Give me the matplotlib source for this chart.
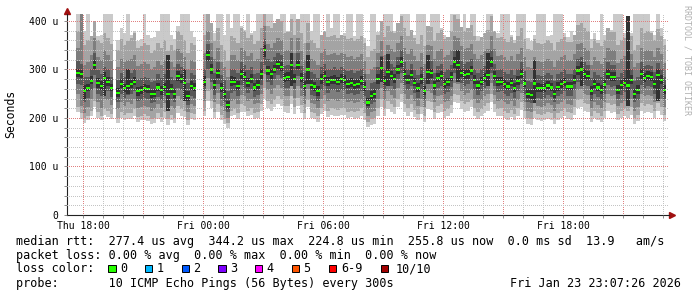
import numpy as np
import matplotlib
matplotlib.use('Agg')
import matplotlib.pyplot as plt
from matplotlib.patches import Rectangle
from matplotlib.ticker import MultipleLocator, FuncFormatter

nan = float('nan')

# ============== data (one column = 10 min, times in hours since Thu 00:00, values in microseconds)
t_start = 17 + 40 / 60.0
t_step = 10 / 60.0

median = [292, 290, 255, 262, 277, 310, 272, 266, 282, 275,
          262, nan, 252, 270, 262, 266, 270, 275, 255, 257,
          261, 260, 249, 250, 263, 257, 264, 250, 260, 250,
          286, 280, 272, 245, 266, 262, nan, nan, 275, 330,
          300, 268, 292, 262, 250, 226, 275, 275, 266, 290,
          285, 272, 280, 263, 268, 290, 340, 298, 290, 300,
          311, 305, 282, 285, 310, 280, 310, 283, 266, 300,
          268, 265, 255, 280, 287, 275, 278, 278, 275, 280,
          278, 270, 272, 268, 270, 276, 264, 232, 246, 250,
          280, 303, 276, 295, 287, 281, 300, 315, 290, 278,
          288, 273, 262, 280, 256, 295, 292, 267, 283, 287,
          270, 274, 285, 315, 310, 293, 288, 290, 298, 278,
          267, 275, 282, 288, 315, 287, 274, 275, 270, 265,
          273, 262, 277, 291, 271, 250, 248, 271, 262, 261,
          262, 267, 263, 250, 264, 270, 274, 265, 265, 278,
          298, 300, 290, 286, 255, 270, 263, 258, 269, 290,
          285, 285, 258, 268, 273, 267, 278, 250, 258, 290,
          283, 286, 284, 270, 289, 278, 258]

# sorted pings: p1 = fastest ... p10 = slowest
p1 = [212, 198, 190, 195, 205, 222, 200, 195, 206, 202,
      198, nan, 190, 200, 195, 198, 198, 205, 192, 195,
      196, 194, 188, 190, 198, 192, 200, 186, 196, 190,
      210, 205, 202, 185, 198, 196, nan, nan, 204, 235,
      220, 200, 212, 195, 188, 180, 205, 206, 198, 212,
      212, 204, 206, 198, 200, 214, 240, 220, 214, 222,
      228, 224, 212, 210, 228, 208, 225, 210, 198, 222,
      200, 198, 192, 208, 214, 202, 206, 205, 204, 206,
      206, 200, 202, 198, 200, 205, 196, 182, 186, 188,
      205, 222, 204, 218, 212, 208, 222, 232, 212, 205,
      212, 202, 196, 208, 192, 218, 216, 198, 210, 212,
      200, 204, 210, 232, 230, 218, 212, 215, 222, 205,
      198, 204, 210, 214, 232, 212, 204, 205, 200, 196,
      202, 195, 205, 216, 200, 188, 186, 200, 195, 194,
      195, 198, 196, 188, 196, 200, 205, 198, 196, 206,
      220, 222, 214, 212, 192, 200, 196, 192, 200, 214,
      210, 212, 195, 200, 204, 200, 206, 188, 194, 214,
      210, 212, 210, 200, 214, 206, 194]
p2 = [222, 210, 200, 205, 215, 235, 212, 205, 218, 214,
      208, nan, 200, 212, 206, 210, 210, 218, 202, 205,
      208, 205, 198, 200, 210, 202, 212, 198, 206, 200,
      225, 218, 215, 196, 210, 208, nan, nan, 215, 255,
      235, 212, 228, 206, 198, 190, 215, 218, 210, 228,
      225, 215, 220, 210, 212, 228, 262, 235, 228, 238,
      245, 240, 225, 225, 245, 222, 242, 226, 210, 238,
      212, 210, 204, 220, 228, 215, 220, 218, 216, 220,
      220, 212, 215, 212, 214, 220, 210, 192, 198, 200,
      220, 240, 218, 235, 228, 222, 240, 250, 228, 220,
      228, 216, 208, 222, 205, 235, 232, 212, 225, 228,
      214, 218, 226, 250, 248, 235, 228, 232, 238, 220,
      212, 218, 225, 230, 250, 228, 218, 220, 215, 210,
      216, 208, 220, 232, 214, 200, 198, 214, 208, 206,
      208, 212, 210, 200, 210, 215, 220, 212, 210, 222,
      238, 240, 230, 228, 205, 215, 210, 205, 215, 230,
      226, 228, 208, 214, 218, 214, 222, 200, 206, 230,
      225, 228, 226, 214, 230, 222, 206]
p3 = [250, 225, 210, 222, 240, 262, 232, 220, 240, 238,
      226, nan, 218, 232, 225, 232, 228, 240, 220, 222,
      225, 222, 215, 218, 228, 220, 230, 214, 224, 218,
      245, 238, 235, 212, 228, 225, nan, nan, 236, 282,
      258, 232, 252, 225, 215, 200, 236, 238, 228, 248,
      245, 235, 240, 228, 230, 250, 290, 258, 250, 262,
      268, 262, 245, 245, 268, 242, 265, 246, 228, 260,
      230, 228, 220, 240, 248, 235, 240, 238, 236, 240,
      240, 232, 235, 230, 232, 238, 228, 205, 212, 215,
      240, 262, 238, 255, 248, 242, 262, 272, 250, 240,
      248, 235, 225, 240, 222, 255, 252, 232, 245, 248,
      232, 236, 246, 272, 270, 255, 248, 252, 258, 240,
      230, 238, 245, 250, 272, 248, 236, 238, 232, 228,
      235, 225, 238, 252, 232, 215, 212, 232, 225, 222,
      225, 230, 226, 215, 228, 232, 238, 228, 226, 240,
      258, 260, 250, 248, 220, 232, 226, 220, 232, 250,
      246, 248, 224, 230, 236, 230, 240, 215, 222, 250,
      245, 248, 246, 232, 250, 240, 222]
p4 = [270, 268, 232, 242, 258, 288, 250, 246, 262, 255,
      244, nan, 234, 250, 242, 248, 250, 256, 236, 238,
      242, 240, 230, 232, 244, 238, 246, 230, 240, 232,
      262, 258, 250, 226, 246, 242, nan, nan, 255, 300,
      275, 248, 270, 240, 232, 212, 252, 255, 245, 268,
      262, 252, 260, 244, 248, 268, 310, 275, 268, 280,
      288, 282, 262, 262, 288, 260, 286, 262, 246, 278,
      248, 246, 236, 258, 265, 252, 258, 257, 254, 258,
      258, 250, 252, 248, 250, 255, 245, 218, 228, 232,
      258, 280, 256, 272, 265, 260, 280, 292, 268, 258,
      266, 252, 242, 258, 238, 272, 270, 248, 262, 265,
      250, 254, 264, 292, 288, 272, 266, 270, 276, 258,
      248, 255, 262, 268, 292, 266, 254, 256, 250, 246,
      252, 242, 256, 270, 250, 232, 230, 250, 242, 240,
      242, 248, 244, 232, 245, 250, 255, 246, 245, 258,
      275, 278, 268, 265, 236, 250, 244, 238, 250, 268,
      264, 265, 240, 248, 254, 248, 258, 232, 238, 268,
      262, 265, 264, 250, 268, 258, 240]
p5 = [284, 283, 240, 255, 270, 300, 262, 258, 245, 266,
      255, nan, 244, 262, 254, 250, 262, 268, 246, 250,
      254, 252, 242, 243, 256, 248, 256, 215, 252, 242,
      276, 272, 235, 236, 258, 255, nan, nan, 266, 318,
      290, 258, 283, 254, 242, 218, 266, 267, 258, 280,
      276, 264, 272, 255, 260, 281, 326, 288, 281, 292,
      302, 296, 274, 276, 265, 272, 300, 275, 258, 270,
      260, 256, 246, 271, 278, 266, 270, 270, 267, 272,
      270, 262, 263, 260, 262, 268, 256, 225, 238, 242,
      271, 275, 268, 265, 278, 273, 290, 305, 281, 270,
      280, 265, 254, 271, 248, 270, 283, 259, 274, 278,
      262, 266, 276, 304, 275, 284, 280, 281, 289, 270,
      259, 267, 274, 265, 305, 278, 266, 267, 262, 257,
      265, 254, 269, 282, 263, 242, 240, 230, 254, 253,
      254, 259, 255, 242, 256, 262, 266, 257, 257, 270,
      288, 265, 281, 278, 247, 262, 255, 250, 261, 281,
      276, 277, 250, 260, 265, 225, 270, 242, 250, 281,
      275, 278, 276, 262, 235, 270, 250]
p6 = [300, 298, 268, 270, 286, 320, 282, 276, 295, 284,
      270, nan, 262, 280, 270, 300, 278, 284, 264, 266,
      270, 268, 258, 260, 272, 266, 273, 330, 270, 260,
      296, 290, 300, 256, 276, 272, nan, nan, 286, 340,
      312, 278, 302, 272, 260, 236, 286, 284, 276, 300,
      294, 282, 290, 272, 278, 300, 350, 308, 300, 310,
      320, 316, 292, 295, 335, 290, 320, 292, 276, 330,
      278, 275, 266, 290, 296, 285, 287, 288, 284, 290,
      288, 280, 282, 278, 280, 286, 274, 242, 256, 260,
      290, 325, 286, 332, 296, 291, 310, 325, 300, 288,
      298, 282, 272, 290, 266, 330, 302, 277, 292, 296,
      280, 283, 295, 325, 340, 302, 298, 300, 308, 288,
      277, 284, 292, 335, 325, 296, 284, 285, 280, 275,
      282, 272, 286, 300, 281, 260, 258, 320, 272, 271,
      272, 276, 273, 260, 274, 280, 283, 275, 275, 288,
      308, 315, 300, 296, 266, 280, 272, 268, 278, 300,
      294, 294, 268, 278, 282, 410, 288, 260, 268, 300,
      292, 296, 294, 280, 300, 288, 268]
p7 = [318, 312, 285, 285, 300, 335, 298, 290, 305, 300,
      285, nan, 278, 292, 285, 290, 292, 300, 280, 282,
      285, 282, 275, 276, 290, 282, 290, 278, 285, 278,
      312, 305, 298, 272, 292, 288, nan, nan, 300, 352,
      325, 292, 315, 288, 278, 255, 300, 300, 292, 315,
      310, 298, 305, 290, 292, 315, 362, 322, 316, 325,
      335, 330, 308, 310, 335, 305, 335, 308, 292, 325,
      294, 290, 282, 305, 312, 300, 302, 305, 300, 305,
      302, 296, 298, 292, 296, 302, 290, 258, 272, 275,
      305, 328, 300, 320, 312, 306, 325, 340, 315, 302,
      312, 298, 288, 305, 282, 320, 318, 292, 308, 312,
      295, 300, 310, 338, 335, 318, 312, 315, 322, 302,
      292, 300, 308, 312, 340, 312, 298, 300, 295, 290,
      298, 288, 302, 315, 296, 276, 274, 296, 288, 286,
      288, 292, 288, 276, 290, 295, 300, 290, 290, 302,
      322, 325, 315, 310, 282, 295, 288, 284, 294, 315,
      310, 310, 284, 292, 298, 292, 302, 276, 284, 315,
      308, 310, 308, 295, 314, 302, 284]
p8 = [345, 420, 310, 315, 330, 365, 325, 320, 340, 330,
      318, nan, 305, 322, 315, 320, 322, 330, 308, 312,
      315, 312, 300, 305, 318, 310, 320, 305, 315, 305,
      342, 335, 325, 300, 320, 315, nan, nan, 335, 380,
      355, 322, 345, 315, 305, 285, 330, 330, 320, 345,
      340, 328, 335, 318, 322, 345, 390, 352, 345, 355,
      365, 360, 338, 340, 365, 335, 365, 338, 320, 355,
      322, 320, 310, 335, 342, 330, 332, 335, 330, 335,
      332, 325, 328, 322, 325, 332, 318, 290, 300, 305,
      335, 358, 330, 350, 342, 336, 355, 370, 345, 332,
      342, 328, 318, 335, 312, 350, 348, 322, 338, 342,
      325, 330, 340, 370, 365, 348, 342, 345, 352, 332,
      322, 330, 338, 342, 370, 342, 328, 330, 325, 320,
      328, 318, 332, 345, 326, 305, 304, 326, 318, 316,
      318, 322, 318, 305, 320, 325, 330, 320, 320, 332,
      352, 355, 345, 340, 310, 325, 318, 312, 324, 345,
      340, 340, 314, 322, 328, 322, 332, 305, 314, 345,
      338, 340, 338, 325, 344, 332, 314]
p9 = [380, 420, 350, 360, 370, 400, 360, 355, 375, 365,
      352, nan, 340, 362, 350, 358, 365, 375, 345, 348,
      355, 350, 335, 340, 355, 345, 360, 338, 350, 340,
      380, 372, 360, 335, 355, 350, nan, nan, 372, 414,
      395, 358, 385, 350, 340, 318, 370, 365, 355, 385,
      380, 365, 372, 352, 358, 385, 414, 390, 385, 395,
      405, 400, 375, 378, 405, 372, 405, 375, 355, 395,
      360, 355, 345, 372, 380, 368, 370, 372, 365, 372,
      370, 362, 365, 358, 362, 370, 355, 325, 338, 342,
      372, 400, 368, 390, 380, 375, 395, 410, 385, 370,
      382, 365, 352, 372, 348, 390, 388, 358, 376, 382,
      362, 368, 380, 412, 405, 388, 380, 385, 392, 370,
      358, 368, 376, 382, 410, 380, 365, 368, 362, 356,
      366, 354, 370, 385, 362, 342, 340, 362, 354, 352,
      354, 360, 355, 340, 356, 362, 368, 356, 356, 372,
      392, 395, 385, 380, 345, 362, 354, 348, 360, 385,
      378, 378, 350, 360, 365, 358, 370, 340, 350, 385,
      375, 380, 376, 360, 384, 370, 350]
p10 = [420, 420, 380, 420, 365, 390, 370, 372, 420, 420,
       420, nan, 360, 385, 375, 420, 372, 380, 358, 362,
       420, 372, 365, 368, 380, 420, 420, 420, 372, 362,
       390, 420, 420, 420, 380, 368, nan, nan, 420, 420,
       395, 375, 420, 420, 372, 420, 385, 420, 420, 390,
       382, 420, 376, 380, 420, 420, 420, 420, 420, 395,
       392, 420, 420, 380, 420, 420, 385, 420, 420, 420,
       380, 420, 420, 372, 378, 420, 385, 420, 420, 368,
       375, 420, 420, 370, 420, 420, 365, 348, 420, 420,
       378, 382, 420, 420, 420, 380, 368, 420, 420, 420,
       382, 372, 420, 420, 420, 375, 420, 420, 420, 385,
       372, 365, 420, 420, 420, 388, 420, 376, 420, 420,
       370, 368, 375, 420, 420, 380, 376, 420, 420, 420,
       372, 360, 420, 420, 420, 365, 358, 372, 420, 420,
       420, 370, 372, 420, 420, 420, 376, 368, 380, 372,
       420, 420, 420, 420, 362, 376, 360, 420, 372, 380,
       382, 420, 420, 420, 376, 380, 375, 420, 420, 420,
       420, 420, 380, 372, 420, 385, 362]

x_ticks = {18: 'Thu 18:00', 24: 'Fri 00:00', 30: 'Fri 06:00', 36: 'Fri 12:00', 42: 'Fri 18:00'}

loss_labels = ['0', '1', '2', '3', '4', '5', '6-9', '10/10']
loss_colors = ['#26ff00', '#00b8ff', '#0059ff', '#7e00ff', '#ff00ff', '#ff5500', '#ff0000', '#a10000']

legend_lines = [
    'median rtt:  277.4 us avg  344.2 us max  224.8 us min  255.8 us now  0.0 ms sd  13.9   am/s',
    'packet loss: 0.00 % avg  0.00 % max  0.00 % min  0.00 % now',
    'loss color:',
    'probe:       10 ICMP Echo Pings (56 Bytes) every 300s',
]
stamp = 'Fri Jan 23 23:07:26 2026'

# ============== figure setup
MONO = 'DejaVu Sans Mono'
W, H = 697, 297
fig = plt.figure(figsize=(W / 100, H / 100), dpi=100)
fig.patch.set_facecolor('white')
ax = fig.add_axes([67 / W, (H - 215) / H, 602 / W, 201 / H])
ax.set_facecolor('white')


def steps(vals):
    # each 10-min column becomes a flat step
    return np.repeat(np.asarray(vals, dtype=float), 2)


n = len(median)
left = t_start + np.arange(n) * t_step
xs = np.column_stack([left, left + t_step]).ravel()

# smoke: outer pairs light, inner pairs dark
pairs = [(p1, p10, '#cacaca'), (p2, p9, '#a4a4a4'), (p3, p8, '#7e7e7e'),
         (p4, p7, '#585858'), (p5, p6, '#323232')]
for lo, hi, col in pairs:
    ax.fill_between(xs, steps(lo), steps(hi), color=col, lw=0, zorder=1)

med = steps(median)
ax.fill_between(xs, med - 2.2, med + 2.2, color=loss_colors[0], lw=0, zorder=1.5)

ax.set_xlim(17.2, 47.3)
ax.set_ylim(0, 414.4)

ax.xaxis.set_major_locator(MultipleLocator(3))
ax.xaxis.set_minor_locator(MultipleLocator(1))
ax.xaxis.set_major_formatter(FuncFormatter(lambda v, p: x_ticks.get(int(round(v)), '')))
ax.yaxis.set_major_locator(MultipleLocator(100))
ax.yaxis.set_minor_locator(MultipleLocator(20))
ax.yaxis.set_major_formatter(FuncFormatter(lambda v, p: '0' if v == 0 else '%d u' % v))

# dotted grid on top of the smoke, 1 px on / 2 px off
ax.set_axisbelow(False)
ax.grid(which='major', color='#e08080', linestyle=(0, (1, 2)), lw=0.72, antialiased=False)
ax.grid(which='minor', color='#c4c4c4', linestyle=(0, (1, 2)), lw=0.72, antialiased=False)

ax.tick_params(which='both', direction='out', length=2, width=0.6, color='#777777')
ax.tick_params(axis='x', which='major', pad=2.5, labelsize=7)
ax.tick_params(axis='y', which='major', pad=4.5, labelsize=7)
for lab in ax.get_xticklabels() + ax.get_yticklabels():
    lab.set_family(MONO)

for s in ['top', 'right']:
    ax.spines[s].set_visible(False)
for s in ['left', 'bottom']:
    ax.spines[s].set_color('#222222')
    ax.spines[s].set_linewidth(0.8)

# axis arrows
ax.plot([0, 0], [1, 1.02], transform=ax.transAxes, color='#222222', lw=0.8, clip_on=False)
ax.plot([0], [1.015], transform=ax.transAxes, marker='^', ms=4.5, color='#a01010',
        mec='#a01010', clip_on=False)
ax.plot([1.005], [0], transform=ax.transAxes, marker='>', ms=4.5, color='#a01010',
        mec='#a01010', clip_on=False)

fig.text(11 / W, 1 - 113.5 / H, 'Seconds', rotation=90, ha='center', va='center',
         family=MONO, fontsize=8.3)
fig.text(687.5 / W, 1 - 60 / H, 'RRDTOOL / TOBI OETIKER', rotation=270, ha='center',
         va='center', family=MONO, fontsize=6, color='#b0b0b0')

# ============== legend block
line_y = [241, 255, 269, 283.3]
for txt, y in zip(legend_lines, line_y):
    fig.text(16 / W, 1 - y / H, txt, ha='left', va='center', family=MONO, fontsize=8.5)
fig.text(681 / W, 1 - line_y[3] / H, stamp, ha='right', va='center', family=MONO, fontsize=8.5)

box_x = [108.3, 145, 181.7, 218.3, 255, 291.7, 328.7, 381]
lab_x = [120, 156.7, 193.3, 230, 266.7, 303.3, 341, 396]
for bx, lx, lab, col in zip(box_x, lab_x, loss_labels, loss_colors):
    fig.add_artist(Rectangle((bx / W, 1 - 272.3 / H), 7.3 / W, 7.3 / H,
                             transform=fig.transFigure, facecolor=col,
                             edgecolor='black', lw=0.7))
    fig.text(lx / W, 1 - line_y[2] / H, lab, ha='left', va='center', family=MONO, fontsize=8.5)

fig.savefig('out.png', dpi=100)
